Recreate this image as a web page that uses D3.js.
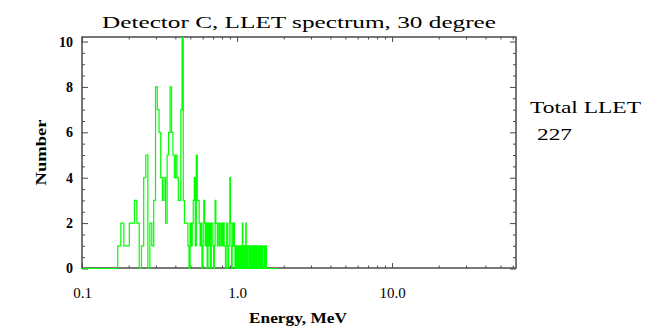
<!DOCTYPE html>
<html>
<head>
<meta charset="utf-8">
<script src="https://cdn.jsdelivr.net/npm/d3@7"></script>
<style>
  html, body { margin: 0; padding: 0; background: #fff; }
  svg { display: block; }
</style>
</head>
<body>
<svg id="chart" width="647" height="328"></svg>
<script>
// ---------------- data ----------------
const titleText = "Detector C, LLET spectrum, 30 degree";
const xLabel = "Energy, MeV";
const yLabel = "Number";
const sideLabel = ["Total LLET", "227"];

const binStartMeV = 0.170;   // lower edge of first counting bin
const binWidthMeV = 0.008;   // bin width
const spanMeV = [0.1, 1.84]; // extent of the plotted histogram (zeros outside bins)
const counts = [
  1,2,1,1,2,2,3,2,0,1,
  4,5,0,2,1,3,8,7,6,4,
  3,4,2,5,6,8,6,5,4,5,
  4,3,3,7,11,3,2,2,2,1,
  0,2,1,2,3,4,1,5,3,3,
  2,1,2,0,1,3,2,1,2,0,
  2,1,2,0,2,2,1,0,1,3,
  2,2,1,2,2,1,2,2,1,2,
  1,2,1,1,0,1,2,1,0,1,
  2,4,2,1,0,1,2,1,2,1,
  0,1,1,0,1,0,1,1,0,1,
  0,1,1,0,2,1,0,1,0,1,
  0,2,1,0,1,0,1,1,1,0,
  1,0,1,1,0,1,0,1,0,1,
  1,0,1,0,1,0,1,0,1,0,
  1,1,0,1,0,1,0,0,1,0,
  0,1,0,0,0,0,1,0,1,0,
  0,1,0,0,0,0
];

const xDomain = [0.1, 63];
const yDomain = [0, 10.2];
const xMajorTicks = [0.1, 1, 10];
const xMajorLabels = ["0.1", "1.0", "10.0"];
const xMinorTicks = [0.2,0.3,0.4,0.5,0.6,0.7,0.8,0.9,2,3,4,5,6,7,8,9,20,30,40,50,60];
const yMajorTicks = [0, 2, 4, 6, 8, 10];
const yMinorTicks = [0.5,1,1.5,2.5,3,3.5,4.5,5,5.5,6.5,7,7.5,8.5,9,9.5];

// ---------------- layout ----------------
const plot = { left: 82, right: 516, top: 37, bottom: 268 };
const axisColor = "#4a4a4a";
const lineColor = "#00ff00";
const serif = "'Liberation Serif','DejaVu Serif','Times New Roman',serif";

const svg = d3.select("#chart");

const x = d3.scaleLog().domain(xDomain).range([plot.left, plot.right]);
const y = d3.scaleLinear().domain(yDomain).range([plot.bottom + 0.5, plot.top]);

// clip (slightly enlarged so the zero line stays visible on the bottom border)
svg.append("defs").append("clipPath").attr("id", "clip")
  .append("rect")
  .attr("x", plot.left).attr("y", plot.top)
  .attr("width", plot.right - plot.left).attr("height", plot.bottom - plot.top + 3);

// axes helpers
function styleAxis(g) {
  g.select(".domain").remove();
  g.selectAll(".tick line").attr("stroke", axisColor).attr("stroke-width", 1);
}

// bottom major
const gxb = svg.append("g").attr("transform", `translate(0,${plot.bottom})`)
  .call(d3.axisBottom(x).tickValues(xMajorTicks).tickSize(-5).tickPadding(19)
    .tickFormat((d, i) => xMajorLabels[i]));
styleAxis(gxb);
gxb.selectAll(".tick text")
  .attr("font-family", serif).attr("font-size", 15).attr("fill", "#000");

// bottom minor
const gxbm = svg.append("g").attr("transform", `translate(0,${plot.bottom})`)
  .call(d3.axisBottom(x).tickValues(xMinorTicks).tickSize(-2.5).tickFormat(""));
styleAxis(gxbm);

// top major/minor
const gxt = svg.append("g").attr("transform", `translate(0,${plot.top})`)
  .call(d3.axisTop(x).tickValues(xMajorTicks).tickSize(-5).tickFormat(""));
styleAxis(gxt);
const gxtm = svg.append("g").attr("transform", `translate(0,${plot.top})`)
  .call(d3.axisTop(x).tickValues(xMinorTicks).tickSize(-2.5).tickFormat(""));
styleAxis(gxtm);

// left major
const gyl = svg.append("g").attr("transform", `translate(${plot.left},0)`)
  .call(d3.axisLeft(y).tickValues(yMajorTicks).tickSize(-6).tickPadding(9)
    .tickFormat(d3.format("d")));
styleAxis(gyl);
gyl.selectAll(".tick text")
  .attr("font-family", serif).attr("font-size", 14).attr("font-weight", "bold").attr("fill", "#000");
const gylm = svg.append("g").attr("transform", `translate(${plot.left},0)`)
  .call(d3.axisLeft(y).tickValues(yMinorTicks).tickSize(-3).tickFormat(""));
styleAxis(gylm);

// right
const gyr = svg.append("g").attr("transform", `translate(${plot.right},0)`)
  .call(d3.axisRight(y).tickValues(yMajorTicks).tickSize(-6).tickFormat(""));
styleAxis(gyr);
const gyrm = svg.append("g").attr("transform", `translate(${plot.right},0)`)
  .call(d3.axisRight(y).tickValues(yMinorTicks).tickSize(-3).tickFormat(""));
styleAxis(gyrm);

// frame
svg.append("rect")
  .attr("x", plot.left).attr("y", plot.top)
  .attr("width", plot.right - plot.left).attr("height", plot.bottom - plot.top)
  .attr("fill", "none").attr("stroke", axisColor).attr("stroke-width", 1.5);

// histogram points (step after), drawn above the frame
const pts = [{ e: spanMeV[0], v: 0 }];
counts.forEach((c, i) => pts.push({ e: binStartMeV + i * binWidthMeV, v: c }));
pts.push({ e: binStartMeV + counts.length * binWidthMeV, v: 0 });
pts.push({ e: spanMeV[1], v: 0 });

const line = d3.line()
  .x(d => x(d.e))
  .y(d => y(d.v))
  .curve(d3.curveStepAfter);

svg.append("path")
  .datum(pts)
  .attr("clip-path", "url(#clip)")
  .attr("fill", "none")
  .attr("stroke", lineColor)
  .attr("stroke-width", 1.2)
  .attr("d", line);

// title
svg.append("text")
  .attr("x", (plot.left + plot.right) / 2).attr("y", 28)
  .attr("text-anchor", "middle")
  .attr("font-family", serif).attr("font-size", 17)
  .attr("textLength", 394).attr("lengthAdjust", "spacingAndGlyphs")
  .attr("fill", "#000")
  .text(titleText);

// x label
svg.append("text")
  .attr("x", 298).attr("y", 323)
  .attr("text-anchor", "middle")
  .attr("font-family", serif).attr("font-size", 14).attr("font-weight", "bold")
  .attr("textLength", 98).attr("lengthAdjust", "spacingAndGlyphs")
  .attr("fill", "#000")
  .text(xLabel);

// y label
svg.append("text")
  .attr("transform", `translate(46,${(plot.top + plot.bottom) / 2}) rotate(-90)`)
  .attr("text-anchor", "middle")
  .attr("font-family", serif).attr("font-size", 14).attr("font-weight", "bold")
  .attr("textLength", 66).attr("lengthAdjust", "spacingAndGlyphs")
  .attr("fill", "#000")
  .text(yLabel);

// side text
svg.append("text")
  .attr("x", 530).attr("y", 113)
  .attr("font-family", serif).attr("font-size", 17)
  .attr("textLength", 111).attr("lengthAdjust", "spacingAndGlyphs")
  .attr("fill", "#000")
  .text(sideLabel[0]);
svg.append("text")
  .attr("x", 537).attr("y", 140)
  .attr("font-family", serif).attr("font-size", 17)
  .attr("textLength", 35).attr("lengthAdjust", "spacingAndGlyphs")
  .attr("fill", "#000")
  .text(sideLabel[1]);
</script>
</body>
</html>
